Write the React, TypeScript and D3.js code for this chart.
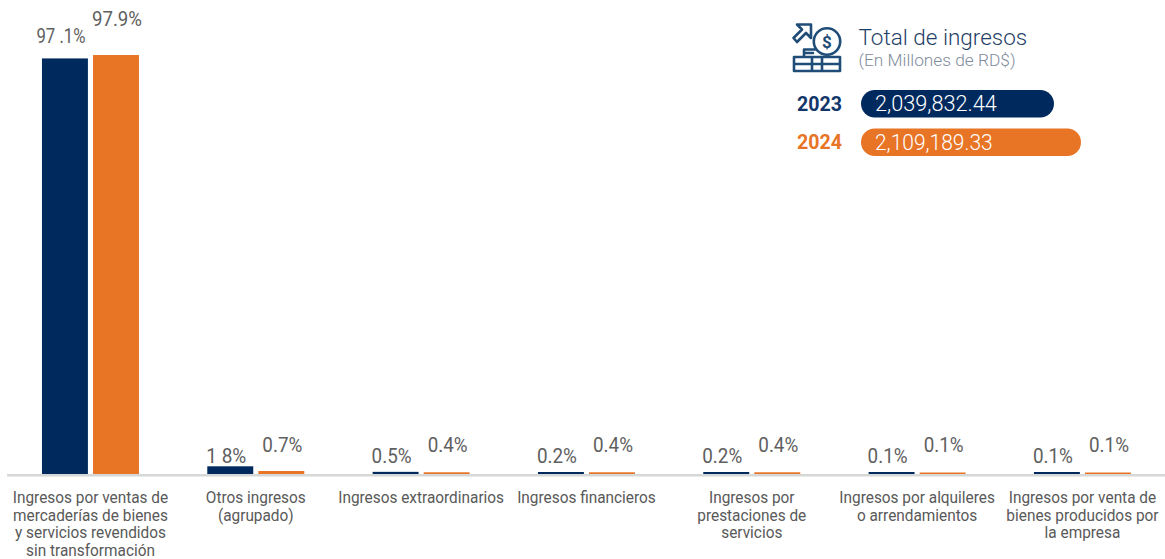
import { useEffect, useRef } from 'react'
import * as d3 from 'd3'

const categories = [
  'Ingresos por ventas de|mercaderías de bienes|y servicios revendidos|sin transformación',
  'Otros ingresos|(agrupado)',
  'Ingresos extraordinarios',
  'Ingresos financieros',
  'Ingresos por|prestaciones de|servicios',
  'Ingresos por alquileres|o arrendamientos',
  'Ingresos por venta de|bienes producidos por|la empresa',
]
const years = ['2023', '2024']
const values2023 = [97.1, 1.8, 0.5, 0.2, 0.2, 0.1, 0.1]
const values2024 = [97.9, 0.7, 0.4, 0.4, 0.4, 0.1, 0.1]
const labels2023 = ['97 .1%', '1 8%', '0.5%', '0.2%', '0.2%', '0.1%', '0.1%']
const labels2024 = ['97.9%', '0.7%', '0.4%', '0.4%', '0.4%', '0.1%', '0.1%']
const totals = ['2,039,832.44', '2,109,189.33']

const NAVY = '#002A5E'
const ORANGE = '#E87425'
const ICON = '#1F4D78'
const FONT = 'Roboto, sans-serif'

export default function App() {
  const svgRef = useRef<SVGSVGElement>(null)

  useEffect(() => {
    if (!svgRef.current) return
    const svg = d3.select(svgRef.current)
    svg.selectAll('*').remove()

    const baseline = 474
    const x = d3.scaleBand<number>().domain(d3.range(categories.length)).range([7.8, 1165.1])
    const y = d3.scaleLinear().domain([0, 97.9]).range([baseline, 55])
    const inner = d3.scaleBand<string>().domain(years).range([0, 97]).paddingInner(0.1)
    const left = (i: number) => x(i)! + x.bandwidth() / 2 - 48.5

    // Baseline
    svg.append('line')
      .attr('x1', 7).attr('x2', 1165)
      .attr('y1', baseline + 1.2).attr('y2', baseline + 1.2)
      .attr('stroke', '#D6D8D8').attr('stroke-width', 2.5)

    // Bars and value labels
    const series = [
      { year: years[0], values: values2023, labels: labels2023, color: NAVY, minH: 2, lift: 15, smallY: 463, shift: -4 },
      { year: years[1], values: values2024, labels: labels2024, color: ORANGE, minH: 1.5, lift: 29, smallY: 452, shift: 1 },
    ]
    series.forEach(s => {
      svg.append('g').selectAll('rect')
        .data(s.values)
        .enter().append('rect')
        .attr('x', (_, i) => left(i) + inner(s.year)!)
        .attr('width', inner.bandwidth())
        .attr('y', d => baseline - Math.max(baseline - y(d), s.minH))
        .attr('height', d => Math.max(baseline - y(d), s.minH))
        .attr('fill', s.color)

      svg.append('g').selectAll('text')
        .data(s.labels)
        .enter().append('text')
        .attr('x', (_, i) => left(i) + inner(s.year)! + inner.bandwidth() / 2 + s.shift)
        .attr('y', (_, i) => (s.values[i] > 50 ? y(s.values[i]) - s.lift : s.smallY))
        .attr('text-anchor', 'middle')
        .attr('font-family', FONT)
        .attr('font-size', 21)
        .attr('fill', '#606060')
        .attr('textLength', d => (d.length > 5 ? 49 : d.length * 10))
        .attr('lengthAdjust', 'spacingAndGlyphs')
        .text(d => d)
    })

    // Category labels, squeezed sideways like a condensed face
    categories.forEach((c, i) => {
      c.split('|').forEach((line, j) => {
        svg.append('text')
          .attr('transform', `translate(${x(i)! + x.bandwidth() / 2},${503 + j * 17.6}) scale(0.905,1)`)
          .attr('text-anchor', 'middle')
          .attr('font-family', FONT)
          .attr('font-size', 17)
          .attr('fill', '#595959')
          .text(line)
      })
    })

    // Totals panel
    svg.append('text').attr('x', 858.5).attr('y', 45)
      .attr('font-family', FONT).attr('font-size', 22.5).attr('font-weight', 300)
      .attr('fill', '#1F4168').text('Total de ingresos')
    svg.append('text').attr('x', 858.5).attr('y', 66)
      .attr('font-family', FONT).attr('font-size', 17.3).attr('font-weight', 300)
      .attr('fill', '#7F8C9C').text('(En Millones de RD$)')

    const pill = d3.scaleLinear().domain([1544000, 2109189.33]).range([0, 220])
    const totalValues = totals.map(t => +t.replace(/,/g, ''))
    series.forEach((s, i) => {
      const top = 90 + i * 38.5
      svg.append('text').attr('x', 842).attr('y', top + 20.5)
        .attr('text-anchor', 'end')
        .attr('font-family', FONT).attr('font-size', 19.6).attr('font-weight', 700)
        .attr('fill', i === 0 ? '#12366A' : s.color).text(s.year)
      svg.append('rect').attr('x', 861).attr('y', top)
        .attr('width', pill(totalValues[i]))
        .attr('height', 27.5).attr('rx', 13.75)
        .attr('fill', s.color)
      // The reference sets narrow ones, Roboto's are tabular
      const ones = totals[i].split('1').length - 1
      const t = svg.append('text')
        .attr('transform', `translate(875,${top + 21}) scale(${1 - ones * 0.017},1)`)
        .attr('font-family', FONT).attr('font-size', 21.7).attr('font-weight', 300)
        .attr('fill', '#fff').text(totals[i])
      t.attr('data-year', s.year)
    })

    // Icon
    const icon = svg.append('g')
      .attr('fill', 'none').attr('stroke', ICON).attr('stroke-width', 2.6)
      .attr('stroke-linejoin', 'round').attr('stroke-linecap', 'round')
    icon.append('circle').attr('cx', 827).attr('cy', 41.5).attr('r', 13.2)
    icon.append('path').attr('d', 'M797 24.5 H811 V38 L806 33 L797 42 L793.5 38 L802 29.5 Z')
    icon.append('path').attr('d', 'M794 57 H840 V71 H794 Z M794 64 H840 M812 57 V71 M822 57 V71 M804 57 V49.5 H815 M804 53 H813')
    svg.append('text').attr('x', 827).attr('y', 47.5)
      .attr('text-anchor', 'middle').attr('font-family', FONT)
      .attr('font-size', 17).attr('font-weight', 700)
      .attr('fill', ICON).text('$')
  }, [])

  return (
    <svg
      ref={svgRef}
      width={1165}
      height={559}
      style={{ position: 'absolute', left: 0, top: 0, background: '#fff' }}
    />
  )
}
